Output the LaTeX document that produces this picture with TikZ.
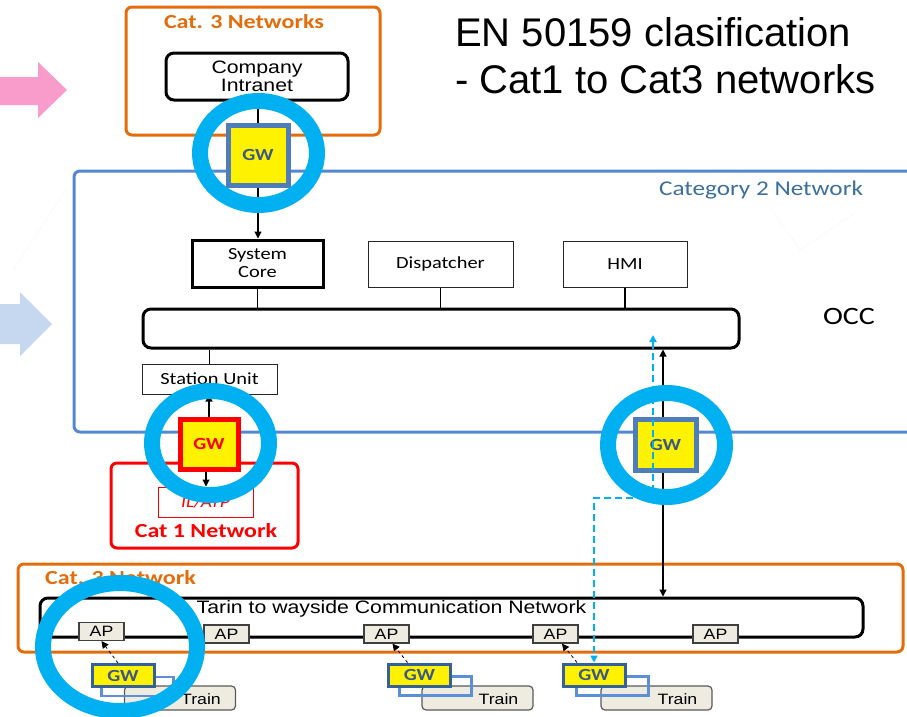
\documentclass[tikz,border=0pt]{standalone}
\usepackage{fontspec}
\usetikzlibrary{arrows.meta}
\newfontfamily\calw[FakeStretch=1.2]{Carlito}
\newfontfamily\arw[FakeStretch=1.18]{Liberation Sans}
\newfontfamily\arn{Liberation Sans}
\newcommand\fsz[1]{\fontsize{#1}{#1}\selectfont}
\definecolor{netorange}{HTML}{E46C0A}
\definecolor{netblue}{HTML}{5588D2}
\definecolor{ringcyan}{HTML}{00B0F0}
\definecolor{gwedge}{HTML}{4F7DBA}
\definecolor{gwedgedark}{HTML}{34609C}
\definecolor{gwtext}{HTML}{3A5A86}
\definecolor{linkblue}{HTML}{5B8FD8}
\definecolor{paper}{HTML}{EEECE1}
\definecolor{cattext}{HTML}{3D6F9E}
\definecolor{pinkarrow}{HTML}{FA9CCB}
\definecolor{bluearrow}{HTML}{C6D8EF}
\definecolor{faint}{HTML}{F3F3F3}
\tikzset{
  every node/.style={inner sep=0pt},
  thickbox/.style={draw=black, line width=3pt, fill=white},
  thinbox/.style={draw=black!85, line width=1pt, fill=white},
  catlbl/.style={font=\calw\bfseries\fsz{20}},
  boxlbl/.style={font=\calw\fsz{17}},
  gwbox/.style={fill=yellow, draw=gwedge, line width=5pt, font=\calw\bfseries\fsz{17}, text=gwtext},
  traingw/.style={fill=yellow, draw=gwedgedark, line width=3pt, minimum width=62pt, minimum height=22pt, font=\calw\bfseries\fsz{17}, text=gwtext},
  linkrect/.style={draw=linkblue, line width=2.5pt, minimum width=72pt, minimum height=19pt},
  trainbox/.style={draw=black!65, fill=paper, line width=1.2pt, rounded corners=4pt, minimum width=111pt, minimum height=24pt,
    label={[font=\arw\fsz{15}, xshift=21pt, yshift=-1pt]center:Train}},
  apbox/.style={draw=black!75, fill=paper, line width=1.2pt, minimum width=45pt, minimum height=18pt, font=\arw\fsz{15}},
  arr/.style={-{Triangle[length=7pt,width=7pt]}},
  conn/.style={draw=black, line width=1.1pt},
  ring/.style={draw=ringcyan, line width=16pt},
  cyandash/.style={draw=ringcyan, line width=2pt, dash pattern=on 7pt off 4pt,
    {Triangle[length=7pt,width=7pt]}-{Triangle[length=7pt,width=7pt]}}
}
\begin{document}
\begin{tikzpicture}[x=1pt,y=-1pt]
\useasboundingbox (0,0) rectangle (907,716);
\clip (0,0) rectangle (907,716);

% side arrows and faint guide dots
\fill[pinkarrow] (0,77) -- (38,77) -- (38,62) -- (67,90) -- (38,118) -- (38,105) -- (0,105) -- cycle;
\fill[bluearrow] (0,304) -- (20,304) -- (20,292) -- (52,324) -- (20,356) -- (20,344) -- (0,344) -- cycle;
\draw[faint, dotted, line width=1pt] (67,188) -- (13,270);
\draw[faint, dotted, line width=1pt] (770,207) -- (800,250) -- (852,215);

% heading
\node[font=\arn\fsz{40}, anchor=base west] (headA) at (455,46) {EN 50159 clasification};
\node[font=\arn\fsz{40}, anchor=base west] (headB) at (455,93) {- Cat1 to Cat3 networks};

% category 3 (company side)
\node[draw=netorange, line width=3pt, rounded corners=6pt, minimum width=254pt, minimum height=128pt] (catthreetop) at (253,71) {};
\node[catlbl, text=netorange] (catthreetoplbl) at (244,22) {Cat. 3 Networks};
\node[thickbox, rounded corners=8pt, minimum width=182pt, minimum height=47pt, align=center, font=\arw\fsz{18}] (intranet) at (257,76.5) {Company\\Intranet};

% category 2 (OCC)
\node[draw=netblue, line width=3pt, rounded corners=6pt, minimum width=856pt, minimum height=261pt] (cattwo) at (502,301.5) {};
\node[font=\calw\fsz{21}, text=cattext] (cattwolbl) at (761,190) {Category 2 Network};
\node[thickbox, minimum width=131pt, minimum height=47pt, align=center, font=\calw\fsz{17}] (syscore) at (257.5,263.5) {System\\[1pt]Core};
\node[thinbox, boxlbl, minimum width=145pt, minimum height=46pt] (dispatcher) at (440.5,264) {Dispatcher};
\node[thinbox, boxlbl, minimum width=124pt, minimum height=46pt] (hmi) at (625,264) {HMI};
\node[thickbox, rounded corners=8pt, minimum width=596pt, minimum height=39pt] (bus) at (441,328.5) {};
\node[font=\calw\fsz{25}] (occ) at (849,316) {OCC};
\node[thinbox, boxlbl, minimum width=135pt, minimum height=30pt] (station) at (209.5,379) {Station Unit};

% category 1 (interlocking)
\node[draw=red, line width=3pt, rounded corners=6pt, minimum width=187pt, minimum height=85pt] (catone) at (204.5,505.5) {};
\node[draw=red, line width=1pt, minimum width=95pt, minimum height=30pt, font=\calw\itshape\fsz{16}, text=red] (ilatp) at (205.5,502) {IL/ATP};
\node[catlbl, text=red] (catonelbl) at (206,531) {Cat 1 Network};

% category 3 (train to wayside)
\node[draw=netorange, line width=3pt, rounded corners=6pt, minimum width=885pt, minimum height=88pt] (catthreebot) at (460.5,608) {};
\node[catlbl, text=netorange] (catthreebotlbl) at (120.5,578) {Cat. 3 Network};
\node[thickbox, rounded corners=8pt, minimum width=823pt, minimum height=39pt] (ttw) at (451.5,617.5) {};
\node[font=\arw\fsz{18}] (ttwlbl) at (391.5,609) {Tarin to wayside Communication Network};
\node[apbox] (apA) at (101.5,631.5) {AP};
\node[apbox] (apB) at (226.5,634) {AP};
\node[apbox] (apC) at (386.5,634) {AP};
\node[apbox] (apD) at (555.5,634) {AP};
\node[apbox] (apE) at (715.5,634) {AP};

% trains with their gateways
\node[trainbox] (trainA) at (180,698) {};
\node[linkrect] (linkA) at (137.5,686.5) {};
\node[traingw] (gwA) at (123,675.5) {GW};
\node[trainbox] (trainB) at (477.5,698) {};
\node[linkrect] (linkB) at (435.5,686) {};
\node[traingw] (gwB) at (419.5,675) {GW};
\node[trainbox] (trainC) at (656.5,698) {};
\node[linkrect] (linkC) at (612.5,686) {};
\node[traingw] (gwC) at (594,675) {GW};

% gateways between categories
\node[gwbox, minimum width=60pt, minimum height=60pt] (gwtop) at (258,155) {GW};
\node[gwbox, draw=red, text=red, minimum width=58pt, minimum height=50pt] (gwred) at (209,444) {GW};
\node[gwbox, minimum width=61pt, minimum height=51pt] (gwright) at (665.5,444.5) {GW};

% connectors
\draw[conn] (gwtop.north) -- (gwtop.north |- intranet.south);
\draw[conn, arr] (gwtop.south) -- (gwtop.south |- syscore.north);
\draw[conn] (syscore.south) -- (syscore.south |- bus.north);
\draw[conn] (dispatcher.south) -- (dispatcher.south |- bus.north);
\draw[conn] (hmi.south) -- (hmi.south |- bus.north);
\draw[conn] (station.north) -- (station.north |- bus.south);
\draw[conn, arr] (gwred.north) -- (gwred.north |- station.south);
\draw[conn, arr] ([xshift=-3pt]gwred.south) -- ([xshift=-3pt]gwred.south |- ilatp.north);
\draw[conn, arr] ([xshift=-2.5pt]gwright.north) -- ([xshift=-2.5pt]gwright.north |- bus.south);
\draw[conn, arr] ([xshift=-2.5pt]gwright.south) -- ([xshift=-2.5pt]gwright.south |- ttw.north);
\draw[conn, arr, line width=0.8pt, dashed] ([xshift=-5pt]gwA.north) -- (apA.south);
\draw[conn, arr, line width=0.8pt, dashed] ([xshift=-12pt]gwB.north) -- ([xshift=6pt]apC.south);
\draw[conn, arr, line width=0.8pt, dashed] ([xshift=-17pt]gwC.north) -- ([xshift=6.5pt]apD.south);
\coordinate (cyantop) at (653,335);
\draw[cyandash] (cyantop) -- ++(0,163) -| (gwC.north);

% highlight rings
\draw[ring] (258.5,153) ellipse [x radius=58.5, y radius=52];
\draw[ring] (210.5,443) ellipse [x radius=58.5, y radius=52];
\draw[ring] (666.5,445) ellipse [x radius=58.5, y radius=52];
\draw[ring] (120,647) ellipse [x radius=77, y radius=64];
\end{tikzpicture}
\end{document}
